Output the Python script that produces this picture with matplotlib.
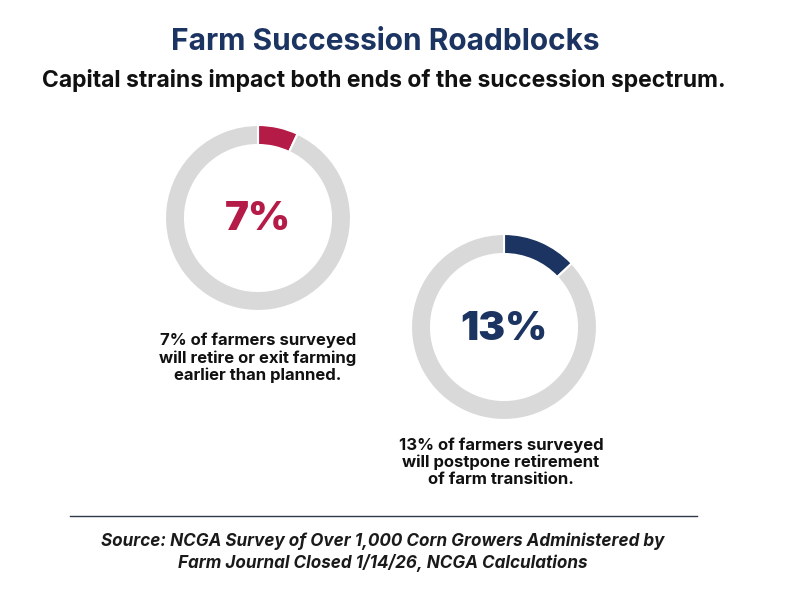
import matplotlib.pyplot as plt

# data
shares = [7, 13]
share_labels = ['7%', '13%']
captions = ['7% of farmers surveyed\nwill retire or exit farming\nearlier than planned.',
            '13% of farmers surveyed\nwill postpone retirement\nof farm transition.']
colors = ['#B51B47', '#1C3461']

title = 'Farm Succession Roadblocks'
subtitle = 'Capital strains impact both ends of the succession spectrum.'
source = 'Source: NCGA Survey of Over 1,000 Corn Growers Administered by\nFarm Journal Closed 1/14/26, NCGA Calculations'

W, H = 796, 599
plt.rcParams['font.family'] = ['Inter', 'DejaVu Sans']

fig = plt.figure(figsize=(W / 100, H / 100), dpi=100)
ax = fig.add_axes([0, 0, 1, 1])

# donut centres in pixel space (y measured from top)
centres = [(258, 218), (504, 327)]
radius = 93
ring = 20

for val, lab, col, (cx, cy) in zip(shares, share_labels, colors, centres):
    ax.pie([val, 100 - val], colors=[col, '#D9D9D9'], startangle=90,
           counterclock=False, center=(cx, H - cy), radius=radius,
           wedgeprops=dict(width=ring, edgecolor='white', linewidth=1.5))
    ax.text(cx, H - cy - 2, lab, ha='center', va='center', fontsize=29,
            fontweight='black', color=col)

caption_pos = [(258, 358), (501, 462)]
for cap, (x, y) in zip(captions, caption_pos):
    ax.text(x, H - y, cap, ha='center', va='center', fontsize=12,
            fontweight='bold', color='#111111', linespacing=1.15)

ax.text(385, H - 42, title, ha='center', va='center', fontsize=21.5,
        fontweight='bold', color='#1C3461')
ax.text(384, H - 80, subtitle, ha='center', va='center', fontsize=16.5,
        fontweight='bold', color='#111111')

ax.plot([70, 697], [H - 516, H - 516], color='#2E3A4A', lw=1)
ax.text(383, H - 552, source, ha='center', va='center', fontsize=12.3,
        fontweight='bold', fontstyle='italic', color='#1a1a1a', linespacing=1.3)

ax.set_xlim(0, W)
ax.set_ylim(0, H)
ax.set_aspect('equal')
ax.axis('off')

fig.savefig('out.png', dpi=100, facecolor='white')
